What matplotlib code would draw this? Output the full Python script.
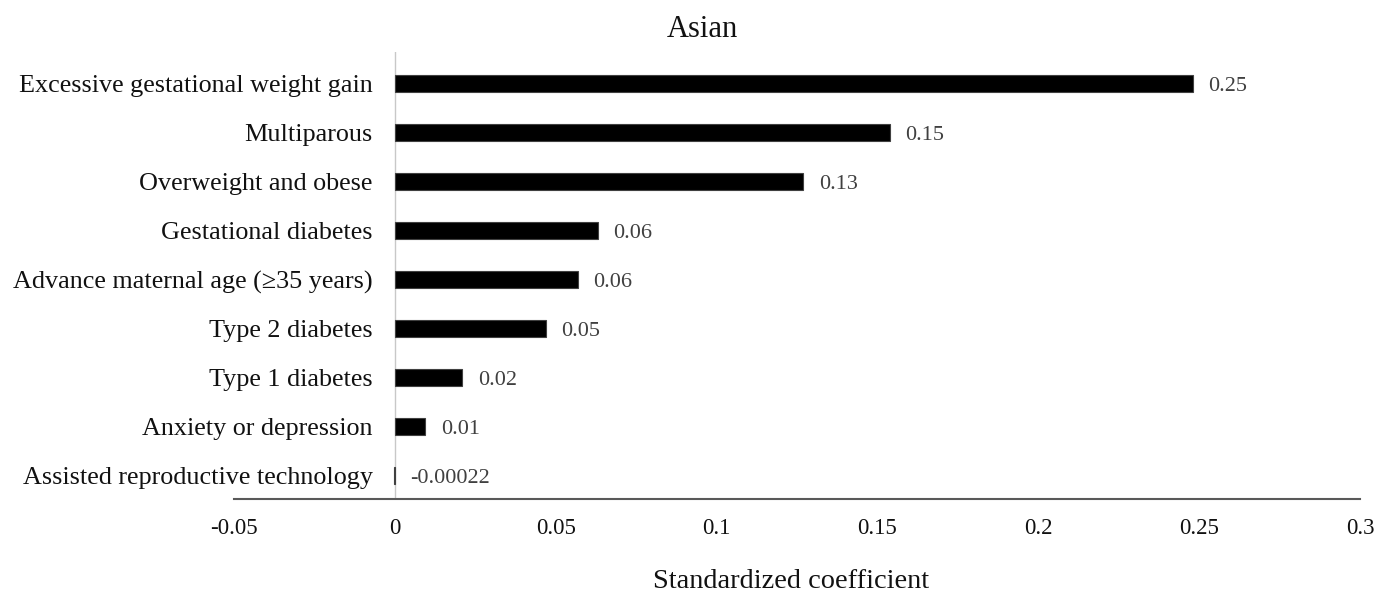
import matplotlib
matplotlib.use("Agg")
import matplotlib.pyplot as plt

# data
categorias = ['Excessive gestational weight gain', 'Multiparous', 'Overweight and obese',
              'Gestational diabetes', 'Advance maternal age (\u226535 years)', 'Type 2 diabetes',
              'Type 1 diabetes', 'Anxiety or depression', 'Assisted reproductive technology']
valores = [0.248, 0.154, 0.127, 0.063, 0.057, 0.047, 0.021, 0.0095, -0.00022]
rotulos = ['0.25', '0.15', '0.13', '0.06', '0.06', '0.05', '0.02', '0.01', '-0.00022']
ticks_x = [-0.05, 0, 0.05, 0.1, 0.15, 0.2, 0.25, 0.3]
ticks_txt = ['-0.05', '0', '0.05', '0.1', '0.15', '0.2', '0.25', '0.3']

plt.rcParams['font.family'] = ['Liberation Serif', 'DejaVu Serif']

fig = plt.figure(figsize=(13.89, 5.93), dpi=100)
ax = fig.add_axes([234/1389, 1 - 499/593, (1360 - 234)/1389, (499 - 52)/593])

pos = list(range(len(categorias)))
ax.barh(pos, valores, height=0.35, color='black', edgecolor='#404040', linewidth=0.8, zorder=3)
ax.axvline(0, color='#c8c8c8', linewidth=1, zorder=2)

# rotulos dos valores
for p, v, r in zip(pos, valores, rotulos):
    ax.annotate(r, xy=(max(v, 0), p), xytext=(11, -2.5), textcoords='offset points',
                ha='left', va='center', fontsize=16, color='#404040')

# nomes das categorias, encostados no eixo do zero
for p, c in zip(pos, categorias):
    ax.annotate(c, xy=(0, p), xytext=(-16, -2), textcoords='offset points',
                ha='right', va='center', fontsize=18.8, color='#111111')

ax.set_xlim(-0.05, 0.3)
ax.set_ylim(8.48, -0.64)
ax.set_yticks([])
ax.set_xticks(ticks_x)
ax.set_xticklabels(ticks_txt, fontsize=16.5, color='#111111')
ax.tick_params(axis='x', length=0, pad=14)

for lado in ['top', 'right', 'left']:
    ax.spines[lado].set_visible(False)
ax.spines['bottom'].set_color('#595959')
ax.spines['bottom'].set_linewidth(1.5)

fig.text(702/1389, 1 - 37/593, 'Asian', fontsize=22, ha='center', va='baseline', color='#111111')
fig.text(791/1389, 1 - 588/593, 'Standardized coefficient', fontsize=20.4, ha='center',
         va='baseline', color='#111111')

fig.savefig('out.png', dpi=100)
